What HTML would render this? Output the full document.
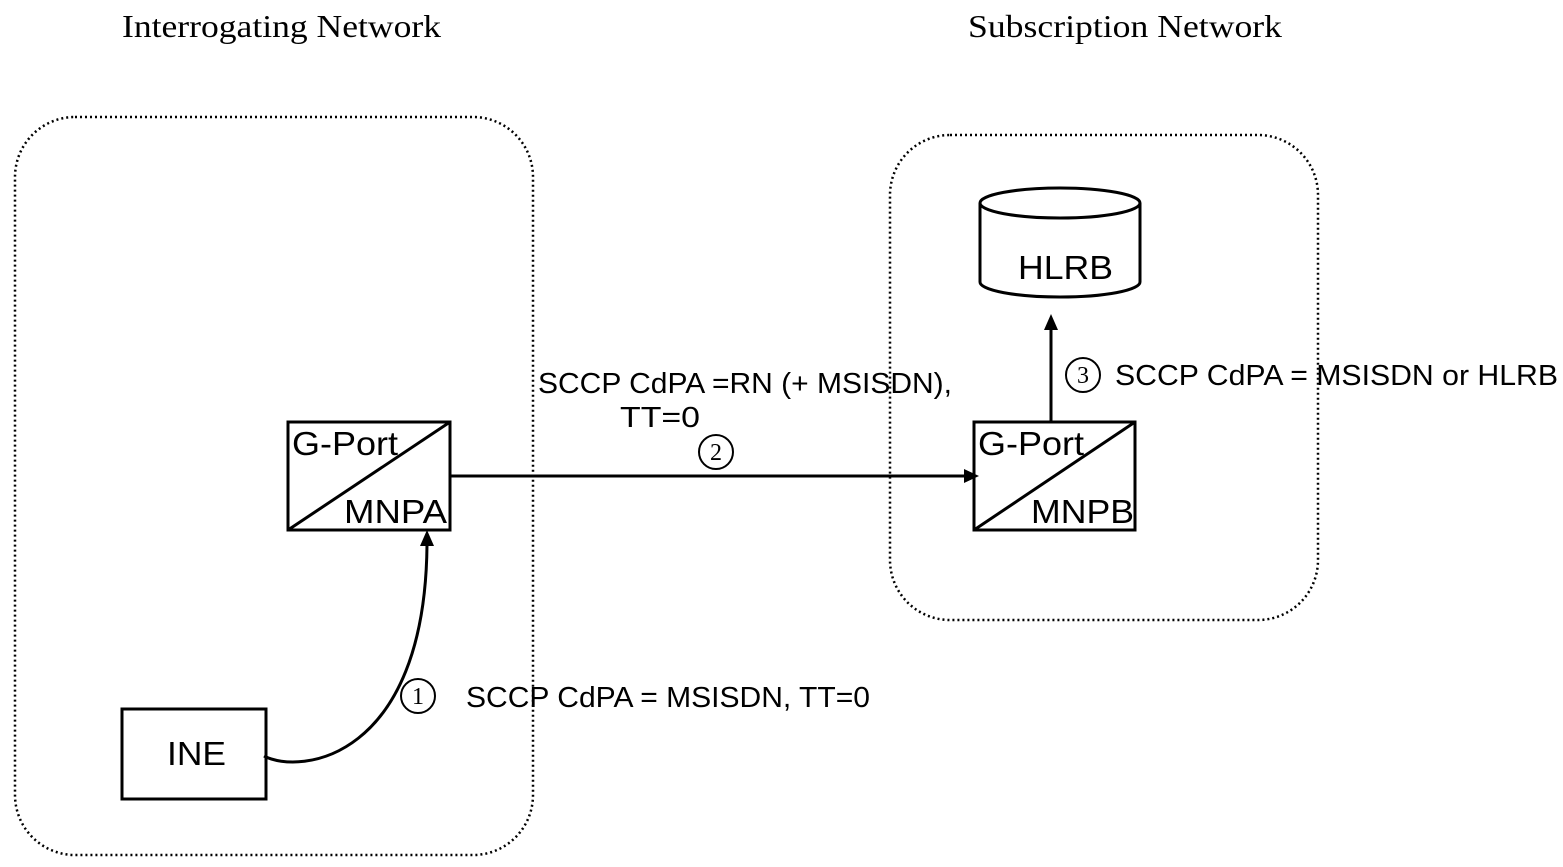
<!DOCTYPE html>
<html><head><style>body{margin:0;background:#fff}</style></head><body>
<svg width="1563" height="862" xmlns="http://www.w3.org/2000/svg" font-family="Liberation Sans, sans-serif">
<text x="122" y="37" font-family="Liberation Serif, serif" font-size="32" textLength="319" lengthAdjust="spacingAndGlyphs">Interrogating Network</text>
<text x="968" y="37" font-family="Liberation Serif, serif" font-size="32" textLength="314" lengthAdjust="spacingAndGlyphs">Subscription Network</text>
<rect x="15" y="117" width="518" height="738" rx="60" fill="none" stroke="#000" stroke-width="2.5" stroke-dasharray="2,3"/>
<rect x="890" y="135" width="428" height="485" rx="60" fill="none" stroke="#000" stroke-width="2.5" stroke-dasharray="2,3"/>
<g stroke="#000" stroke-width="3" fill="none">
<rect x="288" y="422" width="162" height="108"/>
<line x1="288" y1="530" x2="450" y2="422"/>
<rect x="974" y="422" width="161" height="108"/>
<line x1="974" y1="530" x2="1135" y2="422"/>
<rect x="122" y="709" width="144" height="90"/>
<line x1="450" y1="476" x2="965" y2="476"/>
<path d="M264,756 C300,775 425,760 427,545"/>
<line x1="1051" y1="422" x2="1051" y2="328"/>
<path d="M980,203 L980,282 A80,15 0 0 0 1140,282 L1140,203"/>
<ellipse cx="1060" cy="203" rx="80" ry="15" fill="#fff"/>
</g>
<polygon points="979,476 964,469 964,483"/>
<polygon points="427,530 420,546 434,546"/>
<polygon points="1051,314 1044,330 1058,330"/>
<g fill="none" stroke="#000" stroke-width="2"><circle cx="418" cy="696" r="17"/><circle cx="716" cy="452" r="17"/><circle cx="1083" cy="375" r="17"/></g>
<g font-family="Liberation Serif, serif" font-size="24" text-anchor="middle"><text x="418" y="704">1</text><text x="716" y="460">2</text><text x="1083" y="383">3</text></g>
<g font-size="33" lengthAdjust="spacingAndGlyphs">
<text x="292" y="455" textLength="106" lengthAdjust="spacingAndGlyphs">G-Port</text><text x="344" y="523" textLength="103" lengthAdjust="spacingAndGlyphs">MNPA</text>
<text x="978" y="455" textLength="106" lengthAdjust="spacingAndGlyphs">G-Port</text><text x="1031" y="523" textLength="103" lengthAdjust="spacingAndGlyphs">MNPB</text>
<text x="167" y="765" textLength="59" lengthAdjust="spacingAndGlyphs">INE</text>
<text x="1018" y="279" textLength="95" lengthAdjust="spacingAndGlyphs">HLRB</text>
</g>
<g font-size="29">
<text x="538" y="393" textLength="414" lengthAdjust="spacingAndGlyphs">SCCP CdPA =RN (+ MSISDN),</text>
<text x="620" y="427" textLength="80" lengthAdjust="spacingAndGlyphs">TT=0</text>
<text x="1115" y="385" textLength="443" lengthAdjust="spacingAndGlyphs">SCCP CdPA = MSISDN or HLRB</text>
<text x="466" y="707" textLength="404" lengthAdjust="spacingAndGlyphs">SCCP CdPA = MSISDN, TT=0</text>
</g>
</svg>
</body></html>
